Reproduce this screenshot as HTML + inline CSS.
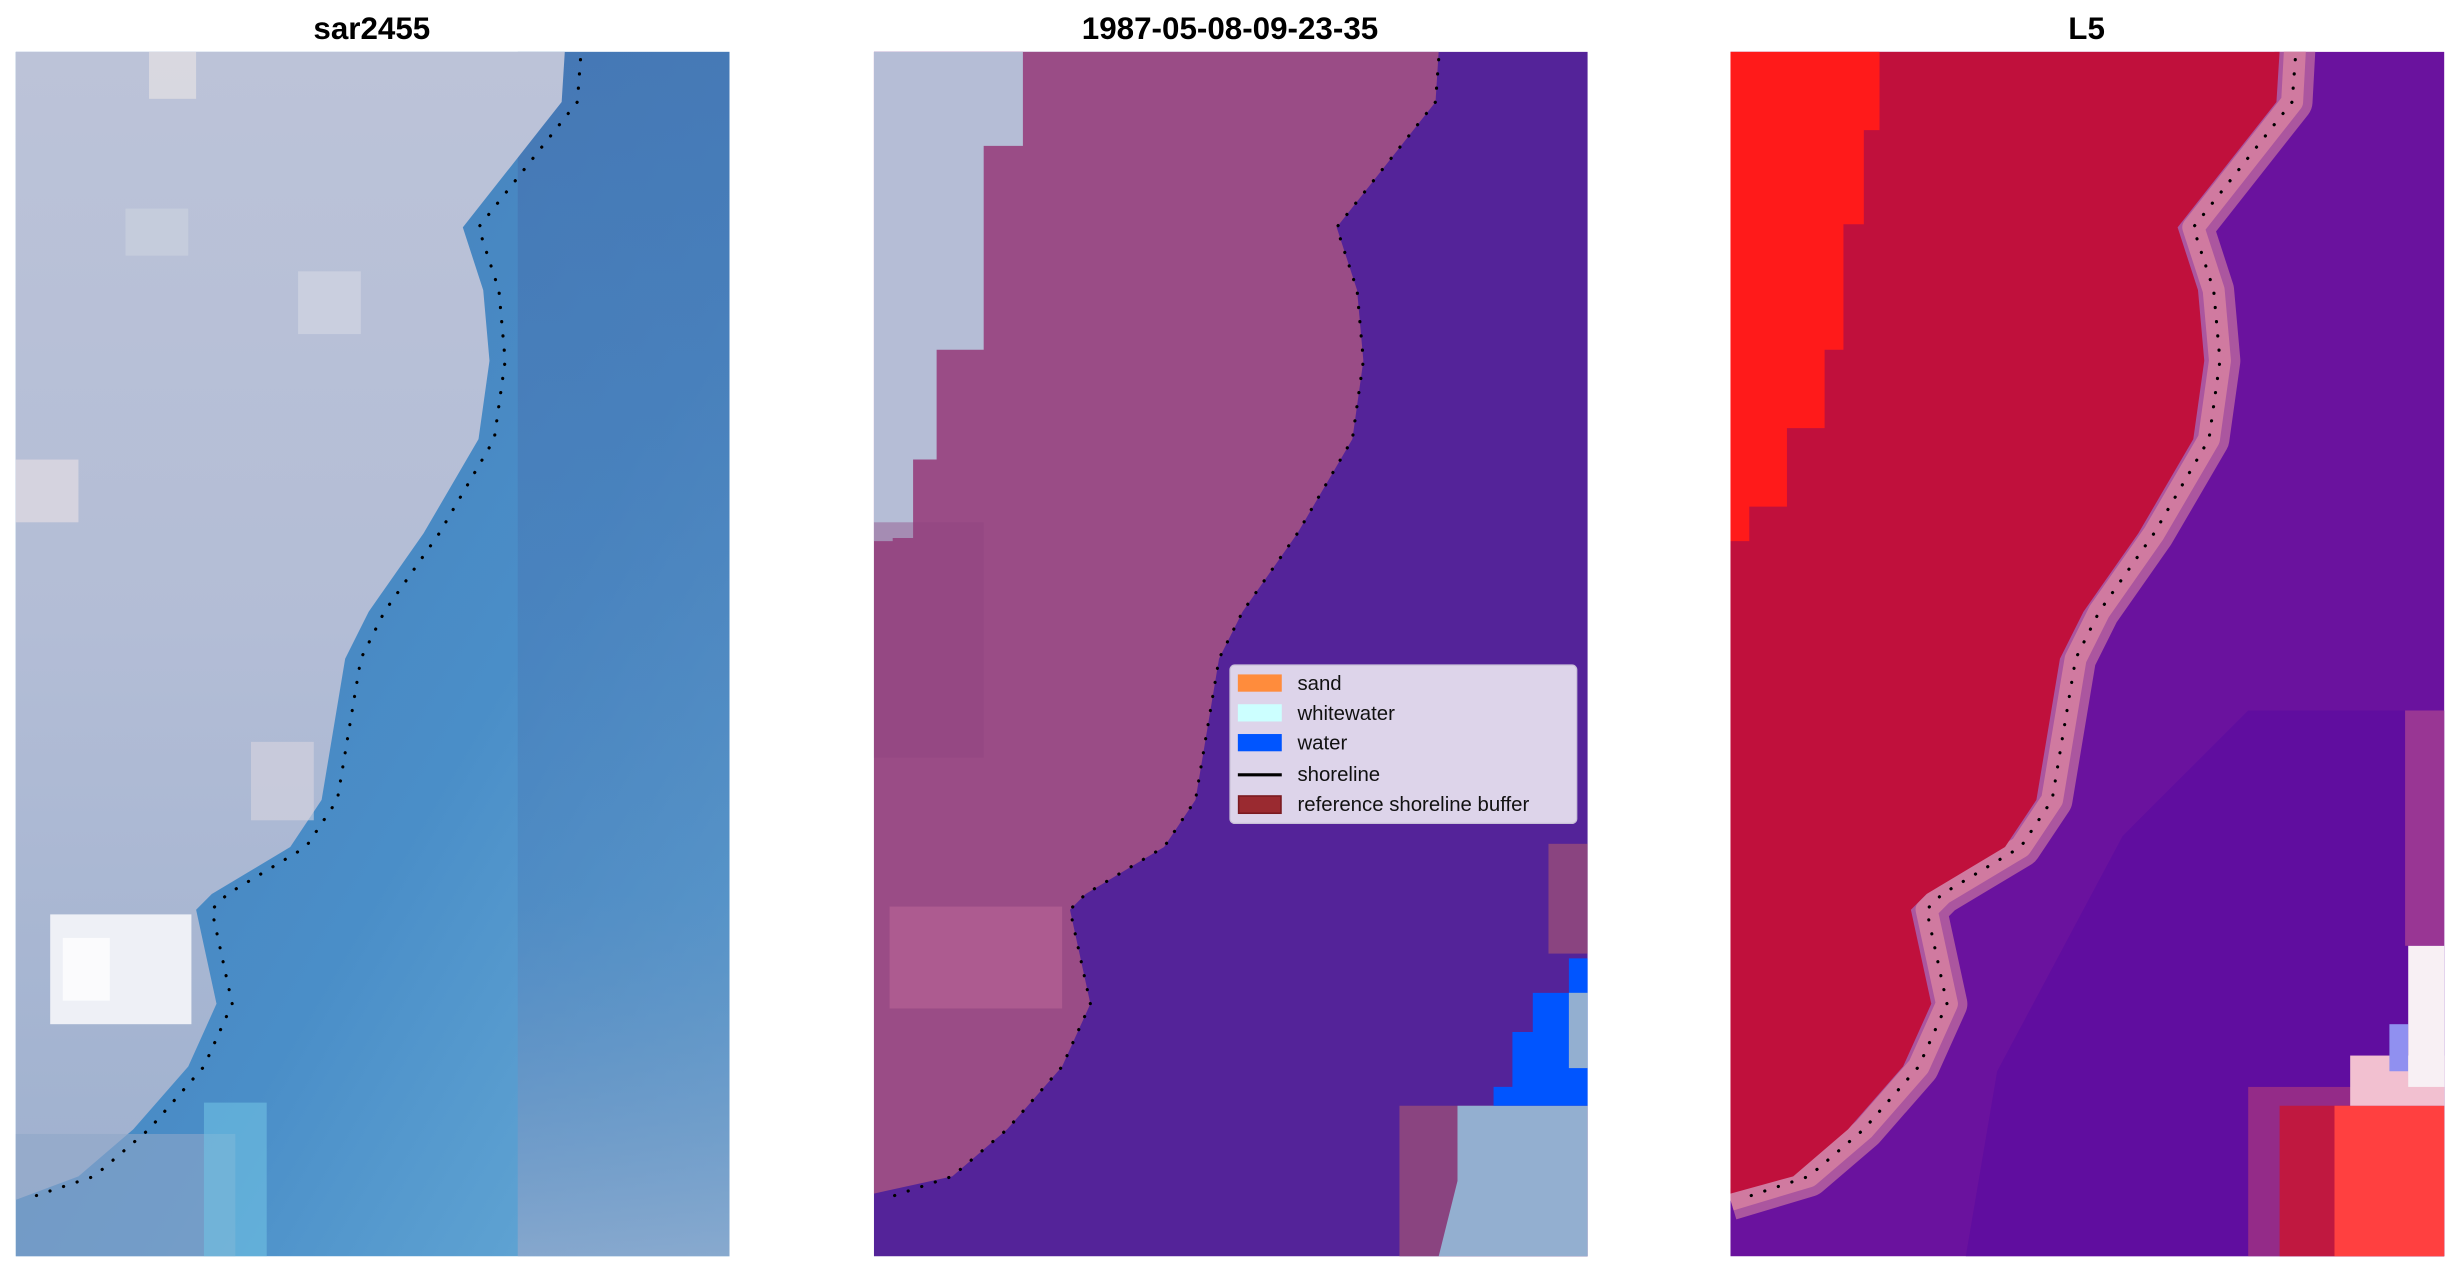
<!DOCTYPE html>
<html><head><meta charset="utf-8"><style>
html,body{margin:0;padding:0;background:#fff;overflow:hidden}
svg{display:block}
</style></head><body>
<svg width="2460" height="1272" viewBox="0 0 1568 811" preserveAspectRatio="none" xmlns="http://www.w3.org/2000/svg" font-family="Liberation Sans, DejaVu Sans, sans-serif">
<defs>
<linearGradient id="g1" x1="0" y1="0" x2="0" y2="1">
<stop offset="0" stop-color="#bcc3d8"/><stop offset="0.5" stop-color="#b3bdd6"/><stop offset="1" stop-color="#9fb1cf"/></linearGradient>
<linearGradient id="w1" x1="0" y1="0" x2="1" y2="1">
<stop offset="0" stop-color="#4479b4"/><stop offset="0.6" stop-color="#4a8ec8"/><stop offset="1" stop-color="#6aaed8"/></linearGradient>
<linearGradient id="r1" x1="0" y1="0" x2="0" y2="1">
<stop offset="0" stop-color="#4472b0" stop-opacity="0.7"/><stop offset="0.7" stop-color="#4a7cb8" stop-opacity="0.4"/><stop offset="1" stop-color="#8fa8cc" stop-opacity="0.8"/></linearGradient>
<clipPath id="c1"><rect x="0" y="0" width="455" height="768"/></clipPath>
</defs>
<g font-weight="bold" font-size="20" text-anchor="middle" fill="#000">
<text x="237" y="25">sar2455</text>
<text x="784" y="25">1987-05-08-09-23-35</text>
<text x="1330" y="25">L5</text>
</g>

<!-- Panel 1 -->
<g transform="translate(10,33)" clip-path="url(#c1)">
<rect width="455" height="768" fill="url(#w1)"/>
<rect x="320" y="0" width="135" height="768" fill="url(#r1)"/>
<polygon fill="url(#g1)" points="0,0 350,0 348,32 285,112 298,152 302,197 295,247 260,307 225,357 210,387 195,477 175,507 125,537 115,547 128,607 110,647 75,687 40,717 0,732"/>
<rect x="0" y="690" width="140" height="78" fill="#8fa6c8" opacity="0.6"/>
<rect x="22" y="550" width="90" height="70" fill="#eef0f6"/>
<rect x="30" y="565" width="30" height="40" fill="#fbfbfd"/>
<rect x="70" y="100" width="40" height="30" fill="#cdd3e0" opacity="0.6"/>
<rect x="180" y="140" width="40" height="40" fill="#d6d9e4" opacity="0.6"/>
<rect x="0" y="260" width="40" height="40" fill="#e2dbe2" opacity="0.7"/>
<rect x="150" y="440" width="40" height="50" fill="#d9d6e0" opacity="0.6"/>
<rect x="85" y="0" width="30" height="30" fill="#e0dde2" opacity="0.8"/>
<rect x="120" y="670" width="40" height="98" fill="#6fc2e2" opacity="0.6"/>
</g>

<!-- Panel 2 -->
<g transform="translate(557,33)" clip-path="url(#c1)">
<rect width="455" height="768" fill="#542399"/>
<polygon fill="#9a4c86" points="0,0 360,0 358,32 295,112 308,152 312,197 305,247 270,307 235,357 220,387 205,477 185,507 135,537 125,547 138,607 120,647 85,687 50,717 0,728"/>
<polygon fill="#b5bdd6" points="0,0 95,0 95,60 70,60 70,190 40,190 40,260 25,260 25,310 12,310 12,312 0,312"/>
<rect x="10" y="545" width="110" height="65" fill="#b56394" opacity="0.7"/>
<rect x="0" y="300" width="70" height="150" fill="#8e4480" opacity="0.4"/>
<rect x="335" y="672" width="120" height="96" fill="#8a4480"/>
<polygon fill="#93afd0" points="372,672 455,672 455,768 360,768 372,720"/>
<polygon fill="#0055ff" points="395,672 395,660 407,660 407,625 420,625 420,600 443,600 443,578 455,578 455,672"/>
<rect x="443" y="600" width="12" height="48" fill="#93afd0"/>
<rect x="430" y="505" width="25" height="70" fill="#8a4480"/>
</g>

<!-- Panel 3 -->
<g transform="translate(1103,33)" clip-path="url(#c1)">
<rect width="455" height="768" fill="#6a129e"/>
<polygon fill="#5a0aa0" opacity="0.6" points="150,768 170,650 250,500 330,420 455,420 455,768"/>
<polyline fill="none" stroke="#c874a0" stroke-width="26" stroke-linejoin="round" opacity="0.7" points="360,-5 358,32 295,112 308,152 312,197 305,247 270,307 235,357 220,387 205,477 185,507 135,537 125,547 138,607 120,647 85,687 50,717 0,732"/>
<polyline fill="none" stroke="#d07aa0" stroke-width="14" stroke-linejoin="round" points="360,-5 358,32 295,112 308,152 312,197 305,247 270,307 235,357 220,387 205,477 185,507 135,537 125,547 138,607 120,647 85,687 50,717 0,732"/>
<polygon fill="#c0103c" points="0,0 350,0 348,32 285,112 298,152 302,197 295,247 260,307 225,357 210,387 195,477 175,507 125,537 115,547 128,607 110,647 75,687 40,717 0,728"/>
<polygon fill="#ff1a1a" points="0,0 95,0 95,50 85,50 85,110 72,110 72,190 60,190 60,240 36,240 36,290 12,290 12,312 0,312"/>
<rect x="330" y="660" width="125" height="108" fill="#b8407a" opacity="0.6"/>
<rect x="350" y="672" width="105" height="96" fill="#c01840"/>
<rect x="385" y="672" width="70" height="96" fill="#ff4040"/>
<rect x="395" y="640" width="60" height="32" fill="#f2c0d0"/>
<rect x="420" y="620" width="12" height="30" fill="#9090f0"/>
<rect x="432" y="570" width="23" height="90" fill="#f8f0f4"/>
<rect x="430" y="420" width="25" height="150" fill="#b24890" opacity="0.7"/>
</g>

<!-- Shorelines -->
<g fill="none" stroke="#000" stroke-width="2" stroke-linecap="round" stroke-dasharray="0.1 9">
<polyline transform="translate(10,33)" points="360,5 358,32 295,112 308,152 312,197 305,247 270,307 235,357 220,387 205,477 185,507 135,537 125,547 138,607 120,647 85,687 50,717 5,732"/>
<polyline transform="translate(557,33)" points="360,5 358,32 295,112 308,152 312,197 305,247 270,307 235,357 220,387 205,477 185,507 135,537 125,547 138,607 120,647 85,687 50,717 5,732"/>
<polyline transform="translate(1103,33)" points="360,5 358,32 295,112 308,152 312,197 305,247 270,307 235,357 220,387 205,477 185,507 135,537 125,547 138,607 120,647 85,687 50,717 5,732"/>
</g>

<!-- Legend -->
<g>
<rect x="784" y="424" width="221" height="101" rx="3" fill="#ddd4ea" stroke="#c9c0d8" stroke-width="0.8"/>
<rect x="789" y="430" width="28" height="11" fill="#ff8c3c"/>
<rect x="789" y="449" width="28" height="11" fill="#ccffff"/>
<rect x="789" y="468" width="28" height="11" fill="#0055ff"/>
<line x1="789" y1="494" x2="817" y2="494" stroke="#000" stroke-width="2"/>
<rect x="789.5" y="507.5" width="27" height="11" fill="#9a2a30" stroke="#7a1a20" stroke-width="1"/>
<g font-size="13" fill="#111">
<text x="827" y="440">sand</text>
<text x="827" y="459">whitewater</text>
<text x="827" y="478">water</text>
<text x="827" y="498">shoreline</text>
<text x="827" y="517">reference shoreline buffer</text>
</g>
</g>
</svg>
</body></html>
